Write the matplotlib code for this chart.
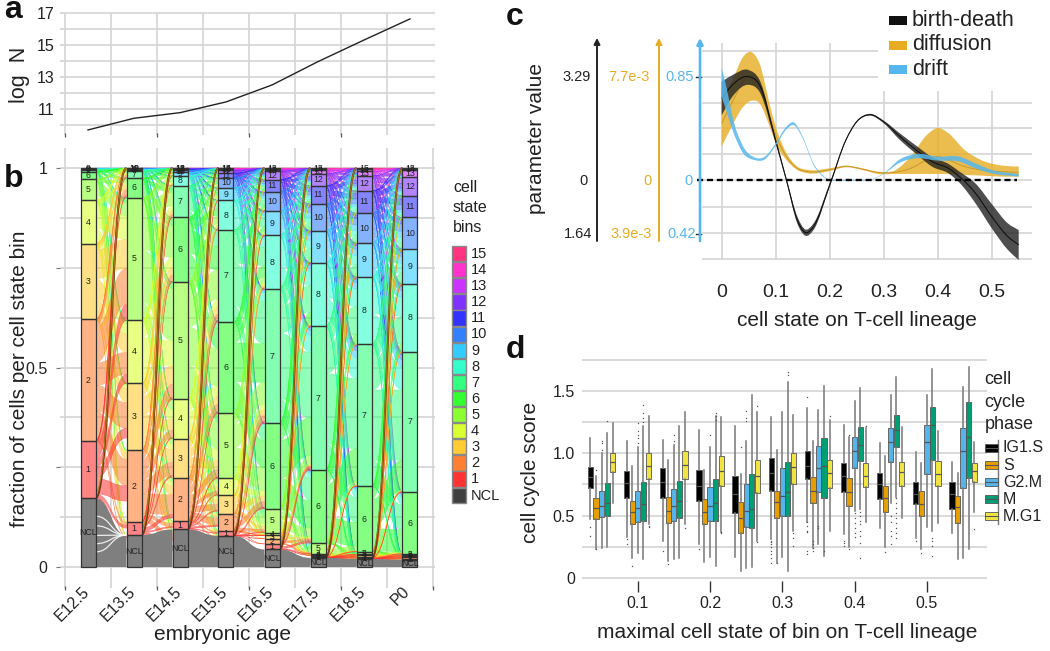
import numpy as np
import matplotlib
matplotlib.use('Agg')
import matplotlib.pyplot as plt
from matplotlib.path import Path
from matplotlib.patches import PathPatch, Rectangle

plt.rcParams['font.family'] = ['Liberation Sans', 'DejaVu Sans']

# ---------- panel a ----------
ages = ['E12.5', 'E13.5', 'E14.5', 'E15.5', 'E16.5', 'E17.5', 'E18.5', 'P0']
log_n = [9.71, 10.44, 10.79, 11.46, 12.52, 13.98, 15.33, 16.65]

# ---------- panel b: cumulative top of each bin (NCL, 1, 2, ...) ----------
tops_e125 = [.172, .316, .621, .810, .919, .972, .991, .995, .997, 1.0]
tops_e135 = [.08, .113, .293, .46, .618, .926, .975, .992, .995, .997, .998, .999, 1.0]
tops_e145 = [.094, .115, .222, .322, .42, .714, .876, .956, .981, .989, .994, .997, .998, .999, 1.0]
tops_e155 = [.078, .09, .134, .18, .222, .385, .615, .845, .919, .95, .975, .987, .994, .997, .999, 1.0]
tops_e165 = [.044, .058, .071, .079, .086, .146, .36, .697, .831, .893, .94, .971, .992, .996, .998, 1.0]
tops_e175 = [.023, .025, .027, .029, .032, .06, .243, .604, .763, .843, .91, .956, .986, .994, .998, 1.0]
tops_e185 = [.02, .023, .026, .029, .032, .038, .2025, .558, .727, .812, .887, .943, .981, .992, .997, 1.0]
tops_p0 = [.018, .021, .024, .027, .029, .032, .188, .54, .71, .797, .876, .931, .977, .994, .998, 1.0]
all_tops = [tops_e125, tops_e135, tops_e145, tops_e155, tops_e165, tops_e175, tops_e185, tops_p0]
bin_names = ['NCL'] + [str(i) for i in range(1, 16)]
bin_colors = ['#404040', '#ff3333', '#ff8033', '#ffcc33', '#d9ff33', '#8cff33', '#33ff33', '#33ff80',
              '#33ffcc', '#33ccff', '#3380ff', '#3333ff', '#8033ff', '#cc33ff', '#ff33cc', '#ff3380']
# relative preference of a cell for moving by this many bins between two ages
step_offsets = [-10, -8, -6, -4, -3, -2, -1, 0, 1, 2, 3, 4, 5, 6, 8]
step_weights = [.015, .02, .025, .03, .05, .09, .17, .30, .25, .14, .08, .05, .03, .02, .01]

# ---------- panel c ----------
c_x = [0, .02, .05, .07, .1, .12, .14, .155, .17, .2, .23, .25, .275, .3, .33, .36, .39, .42, .44, .47, .5, .53, .55]
bd_mid = [2.60, 3.03, 3.29, 3.03, 1.26, 0, -1.26, -1.66, -1.47, -.15, 1.28, 1.86, 2.08, 1.86, 1.39, .96, .59, .38, .12, -.41, -1.15, -1.79, -2.05]
bd_hi = [3.13, 3.34, 3.50, 3.19, 1.33, .05, -1.15, -1.56, -1.37, -.10, 1.30, 1.88, 2.11, 1.89, 1.49, 1.10, .73, .52, .28, -.10, -.75, -1.37, -1.58]
bd_lo = [2.07, 2.66, 3.03, 2.81, 1.17, -.05, -1.37, -1.76, -1.58, -.20, 1.25, 1.84, 2.06, 1.81, 1.28, .84, .43, .22, -.07, -.73, -1.52, -2.21, -2.53]
diff_x = [0, .02, .04, .056, .07, .09, .1, .12, .14, .16, .2, .23, .26, .29, .32, .35, .38, .4, .42, .45, .48, .52, .55]
diff_mid = [4.23, 5.84, 7.33, 7.75, 7.20, 4.61, 3.37, 1.76, .89, .64, .79, 1.04, .84, .57, .59, .89, 1.51, 1.76, 1.51, 1.02, .77, .64, .59]
diff_hi = [5.97, 7.45, 9.19, 9.51, 8.69, 5.47, 3.99, 2.01, 1.02, .77, .89, 1.09, .89, .64, .72, 1.76, 3.37, 3.89, 3.49, 2.25, 1.51, 1.09, 1.02]
diff_lo = [2.50, 4.11, 5.47, 5.92, 5.72, 3.86, 2.75, 1.51, .77, .52, .69, .97, .77, .47, .47, .47, .47, .47, .47, .40, .35, .27, .27]
drift_x = [0, .01, .02, .04, .06, .08, .1, .12, .133, .15, .17, .19, .2, .21, .26, .27, .3, .33, .36, .4, .44, .47, .5, .55]
drift_hi = [.918, .741, .522, .276, .189, .194, .303, .440, .476, .358, .139, .030, .003, .003, .003, .003, .057, .172, .216, .194, .194, .139, .085, .052]
drift_lo = [.686, .549, .413, .221, .167, .172, .284, .418, .454, .344, .126, .022, -.003, -.003, -.003, -.003, .052, .145, .180, .161, .153, .098, .057, .030]

# ---------- panel d: (q1, median, q3, whisker low, whisker high) ----------
d_positions = [.05, .10, .15, .20, .25, .30, .35, .40, .45, .50, .55]
phases = ['IG1.S', 'S', 'G2.M', 'M', 'M.G1']
phase_colors = ['#000000', '#E69F00', '#56B4E9', '#009E73', '#F0E442']
box_ig1s = [(.72, .81, .89, .47, 1.12), (.64, .76, .86, .33, 1.10), (.64, .77, .88, .30, 1.11), (.62, .74, .87, .27, 1.19),
            (.52, .67, .82, .17, 1.22), (.70, .84, .96, .31, 1.29), (.79, .90, 1.02, .45, 1.36), (.69, .82, .92, .35, 1.23),
            (.63, .75, .84, .40, 1.08), (.59, .67, .77, .32, 1.01), (.55, .67, .77, .36, .93)]
box_s = [(.47, .56, .64, .23, .82), (.43, .53, .62, .16, .90), (.44, .54, .65, .14, .95), (.43, .53, .63, .13, .87),
         (.36, .48, .61, .06, .83), (.48, .61, .70, .12, 1.03), (.60, .70, .81, .24, 1.10), (.58, .69, .80, .25, 1.13),
         (.53, .64, .74, .25, .98), (.50, .59, .70, .23, .92), (.44, .57, .66, .15, .84)]
box_g2m = [(.49, .58, .70, .24, 1.0), (.45, .56, .70, .20, 1.05), (.46, .58, .71, .15, 1.07), (.46, .58, .73, .17, 1.05),
           (.41, .54, .75, .08, 1.10), (.50, .66, .88, .17, 1.33), (.69, .88, 1.06, .27, 1.35), (.88, 1.02, 1.13, .54, 1.42),
           (.93, 1.09, 1.20, .60, 1.47), (.83, 1.09, 1.23, .41, 1.47), (.72, 1.02, 1.20, .16, 1.53)]
box_m = [(.50, .60, .76, .25, 1.16), (.46, .59, .77, .15, 1.22), (.48, .62, .78, .16, 1.22), (.46, .60, .79, .10, 1.30),
         (.40, .55, .83, .09, 1.47), (.50, .69, .93, .06, 1.57), (.64, .90, 1.12, .18, 1.54), (.94, 1.07, 1.21, .55, 1.52),
         (1.05, 1.19, 1.31, .65, 1.61), (.95, 1.23, 1.37, .38, 1.68), (.80, 1.13, 1.41, .23, 1.69)]
box_mg1 = [(.85, .93, 1.0, .60, 1.24), (.79, .90, 1.0, .43, 1.30), (.79, .91, 1.02, .43, 1.33), (.74, .86, .98, .37, 1.29),
           (.68, .82, .95, .30, 1.33), (.75, .89, 1.0, .38, 1.31), (.72, .84, .95, .38, 1.27), (.73, .82, .92, .45, 1.20),
           (.74, .85, .93, .48, 1.21), (.74, .83, .94, .44, 1.18), (.77, .86, .92, .53, 1.09)]
fl_ig1s = [[.41, .34], [.31, .27], [.22], [.23], [], [.3, .29, .27, .25, .22, .19, .16, .12], [1.45, .45, .42, .38, .37, .22, .19], [.3, .28, .26], [], [.3], []]
fl_s = [[.87, .23], [.10], [.11], [], [1.05], [.12], [.30, .27, .24, .22], [1.15, .23], [.21], [.2], []]
fl_g2m = [[1.03, 1.08, 1.10], [1.24, 1.18, 1.15, 1.12, 1.08], [1.15, 1.10], [1.15], [1.34, 1.28, 1.26], [], [.42, .40], [.52, .48, .44, .4, .36, .33], [.5, .45, .38, .34, .27], [], []]
fl_m = [[1.26], [1.39, 1.32, 1.28, 1.25], [], [1.32, 1.30, 1.27], [], [1.63, 1.65], [.22], [.53, .5, .46, .43, .38, .34, .28, .16], [.64, .6, .56, .52, .48, .44, .4, .36, .32], [.32, .3, .26, .18], []]
fl_mg1 = [[], [.42, .41], [.40], [.37, .36], [1.38, .29], [.36, .32, .26], [1.30], [1.22], [], [], [.39]]
all_boxes = [box_ig1s, box_s, box_g2m, box_m, box_mg1]
all_fliers = [fl_ig1s, fl_s, fl_g2m, fl_m, fl_mg1]

W, H = 1050, 651
GRID = '#d4d4d4'
INK = '#222222'
fig = plt.figure(figsize=(W / 100, H / 100), dpi=100)


def axes_px(l, t, r, b, xpx, ypx, z=1):
    """axes placed in pixels; xpx/ypx give (value, pixel, pixels-per-unit)"""
    ax = fig.add_axes([l / W, 1 - b / H, (r - l) / W, (b - t) / H], zorder=z)
    ax.set_xlim(xpx[0] + (l - xpx[1]) / xpx[2], xpx[0] + (r - xpx[1]) / xpx[2])
    ax.set_ylim(ypx[0] - (b - ypx[1]) / ypx[2], ypx[0] - (t - ypx[1]) / ypx[2])
    ax.patch.set_alpha(0)
    for s in ax.spines.values():
        s.set_visible(False)
    return ax


def vgrid(ax, xs, lo, hi):
    for x in xs:
        ax.plot([x, x], [lo, hi], color=GRID, lw=1.2, zorder=0, solid_capstyle='butt')


def hgrid(ax, ys, lo, hi):
    for y in ys:
        ax.plot([lo, hi], [y, y], color=GRID, lw=1.2, zorder=0, solid_capstyle='butt')


def smooth(x, y):
    """Path verts/codes of a Hermite-Bezier curve through the read points"""
    x, y = np.asarray(x, float), np.asarray(y, float)
    m = np.gradient(y, x, edge_order=1)
    verts, codes = [(x[0], y[0])], [Path.MOVETO]
    for i in range(len(x) - 1):
        d = (x[i + 1] - x[i]) / 3
        verts += [(x[i] + d, y[i] + m[i] * d), (x[i + 1] - d, y[i + 1] - m[i + 1] * d), (x[i + 1], y[i + 1])]
        codes += [Path.CURVE4] * 3
    return verts, codes


def band(ax, x, hi, lo, **kw):
    v1, c1 = smooth(x, hi)
    v2, c2 = smooth(x[::-1], lo[::-1])
    c2 = list(c2)
    c2[0] = Path.LINETO
    ax.add_patch(PathPatch(Path(v1 + v2 + [v1[0]], c1 + c2 + [Path.CLOSEPOLY]), lw=0, **kw))


def line(ax, x, y, **kw):
    v, c = smooth(x, y)
    ax.add_patch(PathPatch(Path(v, c), fill=False, **kw))


# overlay in pixel coordinates for captions
ov = fig.add_axes([0, 0, 1, 1], zorder=20)
ov.set_xlim(0, W)
ov.set_ylim(H, 0)
ov.axis('off')
ov.patch.set_alpha(0)


def T(x, y, s, size=11, ha='center', va='center', color=INK, **kw):
    ov.text(x, y, s, fontsize=size, ha=ha, va=va, color=color, **kw)


for s, x, y in [('a', 4, 18), ('b', 4, 187), ('c', 506, 25), ('d', 506, 358)]:
    T(x, y, s, size=23, ha='left', va='baseline', fontweight='bold', color='#111111')

# ---------- a ----------
col_x = np.arange(len(ages))
edges = np.arange(-.5, 7.6, 1)
xmap = (0, 88, 46)
axa = axes_px(60, 8, 436, 138, xmap, (11, 109.3, 16))
hgrid(axa, np.arange(10, 18), -0.6, 7.55)
vgrid(axa, edges[:-1], 9.4, 17)
axa.plot(edges[:-1:2], [9.37] * 4, ls='none', marker='|', ms=3, mew=.9, color='#555555', clip_on=False)
axa.plot(col_x, log_n, color='#222222', lw=1)
axa.set_xticks([])
axa.set_yticks([11, 13, 15, 17])
axa.tick_params(axis='y', length=0, pad=4, labelsize=11.5, labelcolor=INK)
T(20, 75, 'log  N', size=15.5, rotation=90)

# ---------- b ----------
axb = axes_px(60, 145, 436, 589, xmap, (0, 567, 399))
hgrid(axb, np.arange(0, 1.01, .125), -0.6, 7.55)
vgrid(axb, edges, -.052, 1.05)
axb.plot(edges[::2], [-.052] * 5, ls='none', marker='|', ms=3, mew=.9, color='#555555', clip_on=False)
half = 7.5 / 46

bounds = []
for tops in all_tops:
    t = list(tops) + [1.0] * (16 - len(tops))
    bounds.append(np.array([0.0] + t))


def couple(p, q):
    n = len(p)
    K = np.zeros((n, n))
    for o, w in zip(step_offsets, step_weights):
        for i in range(1, n):
            j = i + o
            if 0 <= j < n:
                K[i, j] = w
    K[0, 0] = 1.0
    K[0, 1:4] = [.2, .1, .05]
    a, b = np.ones(n), np.ones(n)
    for _ in range(300):
        a = p / np.maximum(K @ b, 1e-12)
        b = q / np.maximum(K.T @ a, 1e-12)
    return np.outer(a, b) * K


def ribbon(x0, x1, a0, a1, b0, b1):
    m = (x0 + x1) / 2
    return Path([(x0, a0), (m, a0), (m, b0), (x1, b0), (x1, b1), (m, b1), (m, a1), (x0, a1), (x0, a0)],
                [Path.MOVETO, Path.CURVE4, Path.CURVE4, Path.CURVE4, Path.LINETO, Path.CURVE4, Path.CURVE4, Path.CURVE4, Path.CLOSEPOLY])


def curve(x0, x1, a, b):
    m = (x0 + x1) / 2
    return Path([(x0, a), (m, a), (m, b), (x1, b)], [Path.MOVETO, Path.CURVE4, Path.CURVE4, Path.CURVE4])


for g in range(len(ages) - 1):
    p, q = np.diff(bounds[g]), np.diff(bounds[g + 1])
    F = couple(p, q)
    x0, x1 = g + half, g + 1 - half
    out_pos = bounds[g][:-1].copy()
    in_pos = bounds[g + 1][:-1].copy()
    rows = {}
    for i in range(16):
        for j in range(16):
            t = F[i, j]
            if t <= 0:
                continue
            a0 = out_pos[i]
            out_pos[i] += t
            rows[(i, j)] = [a0, a0 + t]
    for j in range(16):
        for i in range(16):
            if (i, j) in rows:
                rows[(i, j)] += [in_pos[j], in_pos[j] + F[i, j]]
                in_pos[j] += F[i, j]
    for (i, j), (a0, a1, b0, b1) in sorted(rows.items(), key=lambda kv: -kv[0][0]):
        if a1 - a0 < 3e-5 or i == 0:
            continue
        c = bin_colors[i]
        axb.add_patch(PathPatch(ribbon(x0, x1, a0, a1, b0, b1), fc=c, ec=c, lw=.35, alpha=.55, zorder=2))
    # NCL keeps its own band along the bottom; a large loss shows as pale streaks
    na, nb = bounds[g][1], bounds[g + 1][1]
    axb.add_patch(PathPatch(ribbon(x0, x1, 0, na, 0, nb), fc='#7f7f7f', ec='none', lw=0, zorder=3))
    if na - nb > .05:
        for f in (.22, .34, .46, .6, .74):
            axb.add_patch(PathPatch(curve(x0, x1, na * f, nb), fill=False, ec='white', lw=.9, alpha=.85, zorder=3))
    # the long curve from the NCL stratum up to the top of the next age
    for off, col, lw in [(0, '#7d3a12', 1.4), (.015, '#a8841e', .6)]:
        axb.add_patch(PathPatch(curve(x0, x1, na + off, 1), fill=False, ec=col, lw=lw, zorder=4))

for g, b in enumerate(bounds):
    for i in range(16):
        h = b[i + 1] - b[i]
        if h <= 0:
            continue
        col = '#7f7f7f' if i == 0 else bin_colors[i]
        axb.add_patch(Rectangle((g - half, b[i]), 2 * half, h, fc='white', ec='none', zorder=4.5))
        axb.add_patch(Rectangle((g - half, b[i]), 2 * half, h, fc=col, alpha=1 if i == 0 else .6, ec='none', zorder=5))
        axb.add_patch(Rectangle((g - half, b[i]), 2 * half, h, fill=False, ec='#333333', lw=.9, zorder=6))
        axb.text(g, b[i] + h / 2, bin_names[i], fontsize=6.3, ha='center', va='center', color='#222222', zorder=7)

axb.set_yticks([0, .25, .5, .75, 1])
axb.set_yticklabels(['0', '', '0.5', '', '1'])
axb.tick_params(axis='y', length=3, width=.8, color='#777777', pad=6, labelsize=11.5, labelcolor=INK)
axb.set_xticks([])
for i, s in enumerate(ages):
    px = 87 + 46 * i if s != 'P0' else 407
    T(px, 589, s, size=11.5, ha='right', rotation=45, rotation_mode='anchor')
T(20, 379, 'fraction of cells per cell state bin', size=15, rotation=90)
T(223, 634, 'embryonic age', size=15)

# legend of panel b
for k, s in enumerate(['cell', 'state', 'bins']):
    T(453, 188 + 19.5 * k, s, size=11.5, ha='left')
for k, name in enumerate(bin_names[::-1]):
    y = 246 + 16.1 * k
    i = len(bin_names) - 1 - k
    ov.add_patch(Rectangle((451.5, y), 14.5, 15.2, fc=bin_colors[i], ec='#888888', lw=1))
    T(471, y + 8, name, size=10.5, ha='left')

# ---------- c ----------
cmap_x = (0, 721.7, 540)
BD_PER_PX = 31.5
axc = axes_px(600, 30, 1035, 262, cmap_x, (0, 180.3, BD_PER_PX), z=2)
xl, xr = (701.5 - 721.7) / 540, (1032 - 721.7) / 540
ylines_top = [3.29, 4.12]
ylines_mid = [-2.5, -1.68, -.86, 0, .83, 1.66, 2.44]
hgrid(axc, ylines_top, xl, (878 - 721.7) / 540)
hgrid(axc, ylines_mid, xl, xr)
vgrid(axc, [0, .1, .2], -2.5, 4.35)
vgrid(axc, [.3, .4, .5], -2.5, 2.85)
s_diff = 3.29 / 7.7
s_drift = 3.29 / .85
ORANGE, BLUE = '#E7AC22', '#56B7EE'
to = lambda v, s: list(np.array(v) * s)
band(axc, diff_x, to(diff_hi, s_diff), to(diff_lo, s_diff), fc=ORANGE, alpha=.8, zorder=2)
line(axc, diff_x, to(diff_mid, s_diff), ec='#c99a2a', lw=.7, zorder=2)
band(axc, c_x, bd_hi, bd_lo, fc='#222222', alpha=.8, zorder=3)
line(axc, c_x, bd_mid, ec='#111111', lw=.8, zorder=3)
band(axc, drift_x, to(drift_hi, s_drift), to(drift_lo, s_drift), fc=BLUE, alpha=.85, zorder=4)
axc.plot([(697 - 721.7) / 540, .547], [0, 0], color='black', lw=1.7, ls=(0, (2.6, 1.6)), zorder=5, clip_on=False)
axc.set_xticks([0, .1, .2, .3, .4, .5])
axc.set_xticklabels(['0', '0.1', '0.2', '0.3', '0.4', '0.5'])
axc.tick_params(axis='x', length=0, pad=16, labelsize=14, labelcolor=INK)
axc.set_yticks([])

for x, col, lw in [(597, '#222222', 1.4), (659, ORANGE, 1.4), (700, BLUE, 1.9)]:
    ov.annotate('', xy=(x, 38), xytext=(x, 241),
                arrowprops=dict(arrowstyle='-|>,head_width=.18,head_length=.35', color=col, lw=lw, shrinkA=0, shrinkB=0))
for y, ta, tb, tc, xa, xb, xc in [(77, '3.29', '7.7e-3', '0.85', 591, 650, 694), (181, '0', '0', '0', 588, 652, 693),
                                  (234, '1.64', '3.9e-3', '0.42', 592, 652, 696)]:
    T(xa, y, ta, size=10.5, ha='right', color='#222222')
    T(xb, y, tb, size=10.5, ha='right', color=ORANGE)
    T(xc, y, tc, size=10.5, ha='right', color=BLUE)
for y in (77, 234):
    ov.plot([696, 701], [y, y], color='#222222', lw=1)
T(537, 138, 'parameter value', size=15, rotation=90)
T(857, 320, 'cell state on T-cell lineage', size=15)
for y, col, s in [(20, '#111111', 'birth-death'), (45, ORANGE, 'diffusion'), (69.5, BLUE, 'drift')]:
    ov.add_patch(Rectangle((889, y - 4.5), 18, 9, fc=col, ec='none'))
    T(912, y, s, size=15.5, ha='left')

# ---------- d ----------
axd = axes_px(582, 358, 987, 581, (.1, 637.7, 723), (0, 578, 124.7), z=2)
hgrid(axd, np.arange(0, 1.76, .25), .0, .6)
box_w = 5.2 / 723
dodge = 5.55 / 723
for k, (boxes, fl, col) in enumerate(zip(all_boxes, all_fliers, phase_colors)):
    stats = [dict(q1=b[0], med=b[1], q3=b[2], whislo=b[3], whishi=b[4], fliers=f) for b, f in zip(boxes, fl)]
    pos = [p + (k - 2) * dodge for p in d_positions]
    axd.bxp(stats, positions=pos, widths=box_w, patch_artist=True, showcaps=False, manage_ticks=False,
            boxprops=dict(facecolor=col, edgecolor='#555555', lw=.6),
            medianprops=dict(color='#555555', lw=.9),
            whiskerprops=dict(color='#777777', lw=1.1),
            flierprops=dict(marker='s', markersize=.9, markerfacecolor='#555555', markeredgecolor='none'),
            zorder=3)
axd.set_xlim((582 - 637.7) / 723 + .1, (987 - 637.7) / 723 + .1)
axd.set_xticks([.1, .2, .3, .4, .5])
axd.set_xticklabels(['0.1', '0.2', '0.3', '0.4', '0.5'])
axd.tick_params(axis='x', length=8, width=1, color='#333333', pad=2.5, labelsize=11.5, labelcolor=INK)
axd.set_yticks([0, .5, 1, 1.5])
axd.set_yticklabels(['0', '0.5', '1.0', '1.5'])
axd.tick_params(axis='y', length=0, pad=5, labelsize=11.5, labelcolor=INK)
T(530, 472, 'cell cycle score', size=15, rotation=90)
T(787, 633, 'maximal cell state of bin on T-cell lineage', size=15)
for k, s in enumerate(['cell', 'cycle', 'phase']):
    T(984.5, 380 + 22.3 * k, s, size=13, ha='left')
for k, (s, col) in enumerate(zip(phases, phase_colors)):
    y = 448 + 17.1 * k
    ov.plot([997.5, 997.5], [y - 8, y + 8], color='#777777', lw=1)
    ov.add_patch(Rectangle((984.5, y - 4), 13, 8, fc=col, ec='#555555', lw=.6, zorder=3))
    ov.plot([984.5, 997.5], [y, y], color='#555555', lw=.8, zorder=4)
    T(1003, y, s, size=11.5, ha='left')

fig.savefig('out.png', dpi=100)
